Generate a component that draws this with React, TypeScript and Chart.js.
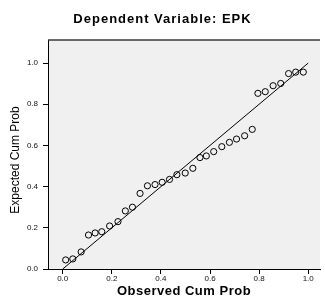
import React, { useEffect, useRef } from "react";
import { Chart, registerables } from "chart.js";

Chart.register(...registerables);

const chartTitle = "Dependent Variable: EPK";
const xAxisTitle = "Observed Cum Prob";
const yAxisTitle = "Expected Cum Prob";

const observedCumProb = [
  0.012, 0.041, 0.075, 0.105, 0.132, 0.159, 0.191, 0.225, 0.255, 0.284,
  0.315, 0.345, 0.376, 0.405, 0.435, 0.465, 0.499, 0.53, 0.559, 0.585,
  0.615, 0.648, 0.679, 0.708, 0.741, 0.772, 0.795, 0.825, 0.857, 0.888,
  0.92, 0.949, 0.98,
];
const expectedCumProb = [
  0.044, 0.049, 0.083, 0.165, 0.175, 0.181, 0.209, 0.23, 0.282, 0.3,
  0.367, 0.404, 0.41, 0.421, 0.435, 0.458, 0.466, 0.489, 0.541, 0.549,
  0.57, 0.594, 0.615, 0.631, 0.647, 0.678, 0.853, 0.861, 0.89, 0.901,
  0.949, 0.956, 0.956,
];
const referenceLineX = [0, 1];
const referenceLineY = [0, 1];
const tickValues = [0, 0.2, 0.4, 0.6, 0.8, 1.0];

const FONT = "'Liberation Sans', Arial, sans-serif";

const plotFramePlugin = {
  id: "plotFrame",
  beforeDraw(chart: any) {
    const { ctx, chartArea } = chart;
    ctx.save();
    ctx.fillStyle = "#f0f0f0";
    ctx.fillRect(chartArea.left, chartArea.top, chartArea.right - chartArea.left, chartArea.bottom - chartArea.top);
    ctx.restore();
  },
  afterDraw(chart: any) {
    const { ctx, chartArea, width } = chart;
    ctx.save();
    ctx.strokeStyle = "#3a3a3a";
    ctx.lineWidth = 1.5;
    ctx.beginPath();
    ctx.moveTo(chartArea.left, chartArea.top);
    ctx.lineTo(chartArea.right, chartArea.top);
    ctx.stroke();
    ctx.fillStyle = "#000";
    ctx.textAlign = "center";
    ctx.textBaseline = "middle";
    (ctx as any).letterSpacing = "1px";
    ctx.font = `bold 13px ${FONT}`;
    ctx.fillText(chartTitle, width / 2, 19);
    (ctx as any).letterSpacing = "0.5px";
    ctx.font = `bold 13px ${FONT}`;
    ctx.fillText(xAxisTitle, 184, 291);
    (ctx as any).letterSpacing = "0px";
    ctx.font = `12px ${FONT}`;
    ctx.translate(16, 160);
    ctx.rotate(-Math.PI / 2);
    ctx.fillText(yAxisTitle, 0, 0);
    ctx.restore();
  },
};

export default function App() {
  const canvasRef = useRef<HTMLCanvasElement | null>(null);

  useEffect(() => {
    if (!canvasRef.current) return;
    const tickFont = { family: FONT, size: 8 };
    const chart = new Chart(canvasRef.current, {
      type: "scatter",
      data: {
        datasets: [
          {
            type: "line",
            data: referenceLineX.map((x, i) => ({ x, y: referenceLineY[i] })),
            borderColor: "#000",
            borderWidth: 1,
            pointRadius: 0,
            fill: false,
          } as any,
          {
            data: observedCumProb.map((x, i) => ({ x, y: expectedCumProb[i] })),
            pointStyle: "circle",
            pointRadius: 3.1,
            pointBorderWidth: 1,
            borderColor: "#000",
            backgroundColor: "rgba(0,0,0,0)",
          } as any,
        ],
      },
      plugins: [plotFramePlugin],
      options: {
        responsive: false,
        animation: false,
        layout: { padding: { top: 40, right: 0, bottom: 0, left: 0 } },
        plugins: {
          legend: { display: false },
          tooltip: { enabled: false },
          title: { display: false },
        },
        scales: {
          x: {
            type: "linear",
            min: -0.06,
            max: 1.048,
            afterBuildTicks: (s: any) => {
              s.ticks = tickValues.map((v) => ({ value: v }));
            },
            afterFit: (s: any) => {
              s.height = 28;
            },
            ticks: {
              font: tickFont,
              color: "#111",
              padding: 0,
              maxRotation: 0,
              autoSkip: false,
              callback: (v: any) => Number(v).toFixed(1),
            },
            grid: { drawOnChartArea: false, drawTicks: true, tickLength: 5, color: "#000" },
            border: { color: "#000", width: 1 },
          },
          y: {
            type: "linear",
            min: 0,
            max: 1.112,
            afterBuildTicks: (s: any) => {
              s.ticks = tickValues.map((v) => ({ value: v }));
            },
            afterFit: (s: any) => {
              s.width = 48;
            },
            ticks: {
              font: tickFont,
              color: "#111",
              padding: 5,
              autoSkip: false,
              callback: (v: any) => Number(v).toFixed(1),
            },
            grid: { drawOnChartArea: false, drawTicks: true, tickLength: 5, color: "#000" },
            border: { color: "#000", width: 1 },
          },
        },
      },
    });
    return () => chart.destroy();
  }, []);

  return (
    <div style={{ position: "absolute", left: 0, top: 0, width: 325, height: 297, background: "#fff" }}>
      <canvas ref={canvasRef} width={325} height={297} style={{ display: "block" }} />
    </div>
  );
}
